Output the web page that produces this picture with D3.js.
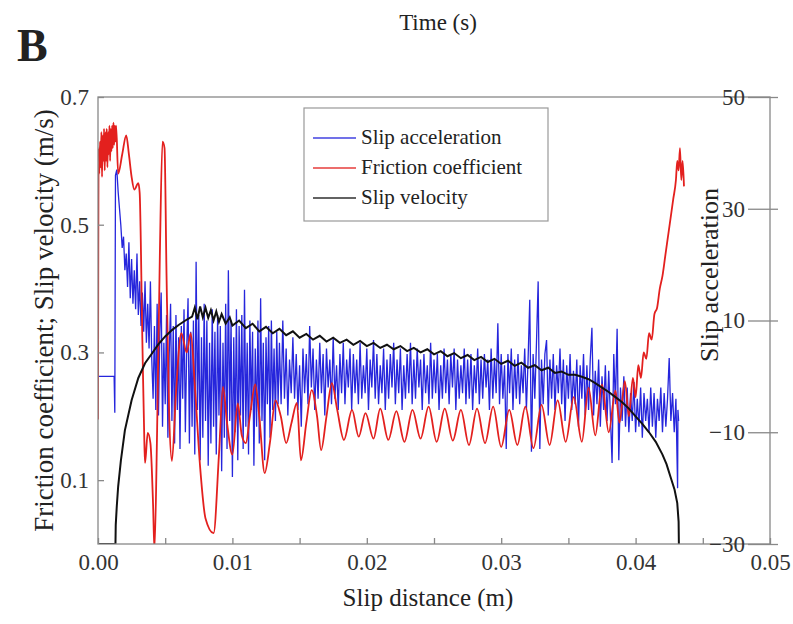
<!DOCTYPE html>
<html>
<head>
<meta charset="utf-8">
<script src="https://cdn.jsdelivr.net/npm/d3@7"></script>
<style>
  body { margin: 0; background: #fff; }
  text { font-family: "Liberation Serif", "Times New Roman", serif; fill: #222; }
  .axis path, .axis line { stroke: #888; stroke-width: 1.3; }
  .axis text { font-size: 23px; font-family: "Liberation Serif", serif; fill: #333; }
</style>
</head>
<body>
<div id="chart"></div>
<script>
// tick values of the three axes
var xTicks = [0, 0.01, 0.02, 0.03, 0.04, 0.05];
var xMinorTicks = [0.005, 0.015, 0.025, 0.035, 0.045];
var leftTicks = [0.1, 0.3, 0.5, 0.7];
var rightTicks = [-30, -10, 10, 30, 50];

var seriesNames = ["Slip acceleration", "Friction coefficient", "Slip velocity"];
var seriesColors = ["#2626dc", "#e3201e", "#111111"];

// slip acceleration (right axis): [slip distance m, acceleration]
var accelData = [
  [0, 0], [0.0012, 0], [0.00125, -6.5], [0.0013, 36], [0.0014, 37], [0.0015, 33], [0.0016, 30],
  [0.0017, 27], [0.0018, 23], [0.0019, 25], [0.002, 19], [0.0021, 22], [0.0022, 16], [0.0023, 24],
  [0.0024, 14], [0.0025, 21], [0.0026, 13], [0.0027, 19], [0.0028, 12], [0.0029, 22], [0.003, 11],
  [0.0031, 17], [0.0032, 9], [0.0033, 15], [0.0034, 8], [0.0035, 17], [0.0036, 6], [0.0037, 13],
  [0.0038, 5], [0.0039, 17], [0.004, 3], [0.0041, -4], [0.0042, 9], [0.0043, -6], [0.0044, 13],
  [0.0045, -7], [0.0046, 8], [0.0047, 15], [0.0048, -9], [0.0049, 6], [0.005, -5], [0.0051, 11],
  [0.0052, -11], [0.0053, 4], [0.0054, 13], [0.0055, -8], [0.0056, 9], [0.0057, -12], [0.0058, 11],
  [0.0059, -6], [0.006, 7], [0.0061, -13], [0.0062, 9], [0.0063, -4], [0.0064, 12], [0.0065, -10],
  [0.0066, 5], [0.0067, 14], [0.0068, -12], [0.0069, 8], [0.007, -9], [0.0071, 10], [0.0072, -14],
  [0.0073, 20.5], [0.0074, -6], [0.0075, 11], [0.0076, -15], [0.0077, 7], [0.0078, -11], [0.0079, 13],
  [0.008, -8], [0.0081, 10], [0.0082, -16], [0.0083, 6], [0.0084, -12], [0.0085, 12], [0.0086, -9],
  [0.0087, 8], [0.0088, -14], [0.0089, 11], [0.009, -7], [0.0091, 9], [0.0092, -17], [0.0093, 6],
  [0.0094, -11], [0.0095, 13], [0.0096, -13], [0.0097, 19], [0.0098, -8], [0.0099, 10], [0.01, -18],
  [0.0101, 7], [0.0102, -10], [0.0103, 12], [0.0104, -15], [0.0105, 9], [0.0106, -7], [0.0107, 11],
  [0.0108, -13], [0.0109, 15.5], [0.011, -9], [0.0111, 6], [0.0112, -14], [0.0113, 10], [0.0114, -6],
  [0.0115, 8], [0.0116, -16], [0.0117, 5], [0.0118, -9], [0.0119, 10], [0.012, -12], [0.0121, 14],
  [0.0122, -8], [0.0123, 6], [0.0124, -15], [0.0125, 7], [0.0126, -5], [0.0127, 9], [0.0128, -11],
  [0.0129, 10], [0.013, -6], [0.0131, 5], [0.0132, -8], [0.0133, 8], [0.0134, -5],
  [0.0135, 6], [0.013625, -5], [0.01375, 10], [0.013875, -4], [0.014, 5], [0.014125, -7], [0.01425, 3],
  [0.014375, -3], [0.0145, 7], [0.014625, -4], [0.01475, 4], [0.014875, -6], [0.015, 2], [0.015125, -9],
  [0.01525, 5], [0.015375, -3], [0.0155, 4], [0.015625, -5], [0.01575, 9], [0.015875, -2], [0.016, 5],
  [0.016125, -6], [0.01625, 3], [0.016375, -4], [0.0165, 6], [0.016625, -3], [0.01675, 4], [0.016875, -7],
  [0.017, 5], [0.017125, -2], [0.01725, 3], [0.017375, -5], [0.0175, 7], [0.017625, -4], [0.01775, 2],
  [0.017875, -6], [0.018, 4], [0.018125, -3], [0.01825, 6], [0.018375, -5], [0.0185, 3], [0.018625, -2],
  [0.01875, 5], [0.018875, -6], [0.019, 4], [0.019125, -3], [0.01925, 3], [0.019375, -5], [0.0195, 6],
  [0.019625, -4], [0.01975, 2], [0.019875, -3], [0.02, 5], [0.020125, -6], [0.02025, 3], [0.020375, -2],
  [0.0205, 6.5], [0.020625, -4], [0.02075, 4], [0.020875, -5], [0.021, 2], [0.021125, -3], [0.02125, 5],
  [0.021375, -6], [0.0215, 3], [0.021625, -4], [0.02175, 4], [0.021875, -2], [0.022, 6], [0.022125, -5],
  [0.02225, 3], [0.022375, -3], [0.0225, 5], [0.022625, -6], [0.02275, 2], [0.022875, -4], [0.023, 4],
  [0.023125, -3], [0.02325, 6], [0.023375, -5], [0.0235, 3], [0.023625, -4], [0.02375, 5], [0.023875, -2],
  [0.024, 3], [0.024125, -6], [0.02425, 4], [0.024375, -3], [0.0245, 2], [0.024625, -5], [0.02475, 6],
  [0.024875, -4], [0.025, 3], [0.025125, -3], [0.02525, 4], [0.025375, -6], [0.0255, 2], [0.025625, -4],
  [0.02575, 5], [0.025875, -3], [0.026, 3], [0.026125, -5], [0.02625, 4], [0.026375, -2], [0.0265, 5],
  [0.026625, -6], [0.02675, 3], [0.026875, -4], [0.027, 2], [0.027125, -3], [0.02725, 5], [0.027375, -5],
  [0.0275, 3], [0.027625, -4], [0.02775, 4], [0.027875, -6], [0.028, 2], [0.028125, -3], [0.02825, 5],
  [0.028375, -5], [0.0285, 3], [0.028625, -4], [0.02875, 4], [0.028875, -2], [0.029, 3], [0.029125, -6],
  [0.02925, 5], [0.029375, -4], [0.0295, 3], [0.029625, -3], [0.02975, 9.5], [0.029875, -5], [0.03, 4],
  [0.030125, -4], [0.03025, 2], [0.030375, -13], [0.0305, 4], [0.030625, -3], [0.03075, 5], [0.030875, -6],
  [0.031, 3], [0.031125, -4], [0.03125, 4], [0.031375, -5], [0.0315, 2], [0.031625, -3], [0.03175, 5],
  [0.031875, -6], [0.032, 3], [0.032125, 13.7], [0.03225, -13.5], [0.032375, 4], [0.0325, -4], [0.032625, 6],
  [0.03275, 17], [0.032875, -13], [0.033, 3], [0.033125, -5], [0.03325, 4], [0.033375, 6.5], [0.0335, -7],
  [0.033625, 3], [0.03375, -4], [0.033875, 4], [0.034, -6], [0.034125, 2], [0.03425, -3], [0.034375, 5],
  [0.0345, -5], [0.034625, 3], [0.03475, -8], [0.034875, 2], [0.035, -4], [0.035125, 4], [0.03525, -6],
  [0.035375, 1], [0.0355, -5], [0.035625, 3], [0.03575, -9], [0.035875, 2], [0.036, -4], [0.036125, 4],
  [0.03625, -7], [0.036375, 2], [0.0365, -6], [0.036625, 3], [0.03675, 8.7], [0.036875, -7], [0.037, 1],
  [0.037125, -5], [0.03725, 3], [0.037375, -9], [0.0375, 0], [0.037625, -6], [0.03775, 2], [0.037875, -8],
  [0.038, 1], [0.038125, -7], [0.03825, -15.5], [0.038375, 4], [0.0385, -5], [0.038625, 8.5], [0.03875, -15],
  [0.038875, -2], [0.039, -8], [0.039125, 0], [0.03925, -9], [0.039375, -2], [0.0395, -10], [0.039625, -3],
  [0.03975, -8], [0.039875, -1], [0.04, -10], [0.040125, -4], [0.04025, -9], [0.040375, -2], [0.0405, -11],
  [0.040625, -3], [0.04075, -8], [0.040875, -4], [0.041, -10], [0.041125, -2], [0.04125, -9], [0.041375, -3],
  [0.0415, -11], [0.041625, -4], [0.04175, -8], [0.041875, -2], [0.042, -10], [0.042125, -3], [0.04225, -9],
  [0.042375, -4], [0.0425, 3.3], [0.042625, -8], [0.04275, -3], [0.042875, -10], [0.043, -4], [0.043125, -20],
  [0.04315, -6], [0.0432, -8]
];

// friction coefficient (left axis): [slip distance m, coefficient]
var frictionData = [
  [0, 0.195], [0.00005, 0.62], [0.0001, 0.58], [0.00015, 0.63], [0.0002, 0.59], [0.00025, 0.645],
  [0.0003, 0.575], [0.00035, 0.64], [0.0004, 0.6], [0.00045, 0.65], [0.0005, 0.585], [0.00055, 0.645],
  [0.0006, 0.6], [0.00065, 0.65], [0.0007, 0.59], [0.00075, 0.645], [0.0008, 0.61], [0.00085, 0.655],
  [0.0009, 0.6], [0.00095, 0.65], [0.001, 0.615], [0.00105, 0.655], [0.0011, 0.62], [0.00115, 0.66],
  [0.0012, 0.625], [0.00125, 0.655], [0.0013, 0.63], [0.00135, 0.655], [0.0015, 0.58], [0.0018, 0.61],
  [0.0021, 0.64], [0.0023, 0.61], [0.0025, 0.575], [0.0027, 0.555], [0.003, 0.565], [0.0031, 0.55],
  [0.0033, 0.32], [0.00345, 0.158], [0.0035, 0.127], [0.0037, 0.174], [0.0039, 0.158], [0.0041, 0.06],
  [0.0042, -0.01], [0.0044, 0.18], [0.0046, 0.45], [0.0048, 0.63], [0.00495, 0.62], [0.0051, 0.42],
  [0.0053, 0.2], [0.0055, 0.13], [0.0058, 0.236], [0.0062, 0.33], [0.0066, 0.3], [0.0069, 0.33],
  [0.0072, 0.25], [0.0076, 0.12], [0.008, 0.04], [0.0086, 0.017], [0.009, 0.14], [0.0093, 0.246],
  [0.0096, 0.19], [0.01, 0.14], [0.0104, 0.22], [0.0107, 0.17], [0.011, 0.158], [0.0113, 0.2],
  [0.0117, 0.25], [0.012, 0.2], [0.0124, 0.111], [0.0128, 0.16], [0.0132, 0.225], [0.0136, 0.2],
  [0.014, 0.158], [0.0144, 0.19], [0.0148, 0.221], [0.0151, 0.131], [0.0155, 0.19], [0.0159, 0.241],
  [0.0163, 0.2], [0.0166, 0.147], [0.017, 0.2], [0.0174, 0.252], [0.0178, 0.21], [0.0183, 0.163],
  [0.0189, 0.21], [0.0194, 0.168], [0.0199, 0.205], [0.0205, 0.165], [0.021, 0.212], [0.0216, 0.163],
  [0.0222, 0.208], [0.0228, 0.16], [0.0234, 0.21], [0.024, 0.165], [0.0246, 0.215], [0.0252, 0.16],
  [0.0258, 0.212], [0.0264, 0.162], [0.027, 0.21], [0.0276, 0.155], [0.0282, 0.212], [0.0288, 0.158],
  [0.0294, 0.215], [0.03, 0.152], [0.0306, 0.21], [0.0312, 0.155], [0.0318, 0.215], [0.0324, 0.15],
  [0.033, 0.218], [0.0336, 0.155], [0.0342, 0.225], [0.0348, 0.16], [0.0354, 0.23], [0.036, 0.16],
  [0.0365, 0.245], [0.037, 0.17], [0.0375, 0.25], [0.038, 0.175], [0.0385, 0.24], [0.0388, 0.19],
  [0.0392, 0.255], [0.0395, 0.2], [0.0398, 0.26], [0.04, 0.23], [0.0402, 0.28], [0.0404, 0.26],
  [0.0406, 0.3], [0.0408, 0.29], [0.041, 0.33], [0.0412, 0.32], [0.0414, 0.36], [0.0416, 0.37],
  [0.0418, 0.4], [0.042, 0.42], [0.0422, 0.45], [0.0424, 0.48], [0.0426, 0.51], [0.0428, 0.54],
  [0.043, 0.57], [0.0431, 0.6], [0.0432, 0.585], [0.0433, 0.62], [0.0434, 0.57], [0.0435, 0.6],
  [0.0436, 0.56]
];

// slip velocity (left axis): [slip distance m, velocity m/s]
var velocityData = [
  [0, 0], [0.0013, 0], [0.00132, 0.03], [0.0014, 0.06], [0.0015, 0.09], [0.0017, 0.13], [0.002, 0.178],
  [0.0025, 0.225], [0.003, 0.26], [0.0035, 0.283], [0.004, 0.298], [0.0045, 0.313], [0.005, 0.325],
  [0.0055, 0.335], [0.006, 0.343], [0.0065, 0.35], [0.007, 0.356], [0.0072, 0.37], [0.0074, 0.352],
  [0.0076, 0.372], [0.0078, 0.355], [0.008, 0.37], [0.0082, 0.354], [0.0084, 0.366], [0.0086, 0.35],
  [0.0088, 0.364], [0.009, 0.348], [0.0092, 0.36], [0.0095, 0.345], [0.0098, 0.355], [0.01, 0.342],
  [0.0105, 0.35], [0.011, 0.338], [0.0115, 0.345], [0.012, 0.333], [0.0125, 0.34], [0.013, 0.33],
  [0.0135, 0.337], [0.014, 0.327], [0.0145, 0.333], [0.015, 0.323], [0.0155, 0.329], [0.016, 0.32],
  [0.0165, 0.326], [0.017, 0.317], [0.0175, 0.323], [0.018, 0.315], [0.0185, 0.32], [0.019, 0.312],
  [0.0195, 0.318], [0.02, 0.31], [0.0205, 0.315], [0.021, 0.307], [0.0215, 0.312], [0.022, 0.305],
  [0.0225, 0.31], [0.023, 0.302], [0.0235, 0.307], [0.024, 0.3], [0.0245, 0.305], [0.025, 0.297],
  [0.0255, 0.302], [0.026, 0.294], [0.0265, 0.299], [0.027, 0.291], [0.0275, 0.296], [0.028, 0.288],
  [0.0285, 0.293], [0.029, 0.285], [0.0295, 0.29], [0.03, 0.282], [0.0305, 0.287], [0.031, 0.279],
  [0.0315, 0.284], [0.032, 0.276], [0.0325, 0.28], [0.033, 0.272], [0.0335, 0.276], [0.034, 0.268],
  [0.0345, 0.27], [0.035, 0.265], [0.0355, 0.265], [0.036, 0.262], [0.0365, 0.258], [0.037, 0.252],
  [0.0375, 0.245], [0.038, 0.238], [0.0385, 0.23], [0.039, 0.222], [0.0395, 0.212], [0.04, 0.2],
  [0.0405, 0.188], [0.041, 0.175], [0.0415, 0.16], [0.042, 0.14], [0.0423, 0.125], [0.0426, 0.105],
  [0.0429, 0.085], [0.0431, 0.064], [0.0432, 0.035], [0.04322, 0]
];

var margin = {top: 97, right: 23, bottom: 80, left: 98},
    width = 793 - margin.left - margin.right,
    height = 624 - margin.top - margin.bottom;

var x = d3.scaleLinear().domain([0, 0.05]).range([0, width]);
var yL = d3.scaleLinear().domain([0, 0.7]).range([height, 0]);
var yR = d3.scaleLinear().domain([-30, 50]).range([height, 0]);

var root = d3.select("#chart").append("svg")
    .attr("width", 793)
    .attr("height", 624);

// panel letter and the leftover title of the panel above
root.append("text")
    .attr("x", 17).attr("y", 61)
    .style("font-size", "46px").style("font-weight", "bold")
    .text("B");
root.append("text")
    .attr("x", 438).attr("y", 30)
    .attr("text-anchor", "middle")
    .style("font-size", "23px")
    .text("Time (s)");

var svg = root.append("g")
    .attr("transform", "translate(" + margin.left + "," + margin.top + ")");

svg.append("clipPath").attr("id", "plotclip")
  .append("rect").attr("width", width).attr("height", height);

// series lines
var lineR = d3.line().x(function(d) { return x(d[0]); }).y(function(d) { return yR(d[1]); });
var lineL = d3.line().x(function(d) { return x(d[0]); }).y(function(d) { return yL(d[1]); });
var smoothL = d3.line().curve(d3.curveMonotoneX)
    .x(function(d) { return x(d[0]); }).y(function(d) { return yL(d[1]); });

var plot = svg.append("g").attr("clip-path", "url(#plotclip)");
plot.append("path").datum(accelData)
    .attr("d", lineR).attr("fill", "none")
    .attr("stroke", seriesColors[0]).attr("stroke-width", 1.3);
plot.append("path").datum(frictionData)
    .attr("d", smoothL).attr("fill", "none")
    .attr("stroke", seriesColors[1]).attr("stroke-width", 1.8);
plot.append("path").datum(velocityData)
    .attr("d", lineL).attr("fill", "none")
    .attr("stroke", seriesColors[2]).attr("stroke-width", 2);

// frame
svg.append("rect")
    .attr("width", width).attr("height", height)
    .attr("fill", "none").attr("stroke", "#888").attr("stroke-width", 1.3);

// x axis with ticks pointing inward
svg.append("g")
    .attr("class", "axis")
    .attr("transform", "translate(0," + height + ")")
    .call(d3.axisBottom(x).tickValues(xTicks.concat(xMinorTicks))
      .tickSize(-6).tickPadding(10)
      .tickFormat(function(d) { return xTicks.indexOf(d) >= 0 ? d3.format(".2f")(d) : ""; }))
    .call(function(g) { g.select(".domain").remove(); });

// left axis
svg.append("g")
    .attr("class", "axis")
    .call(d3.axisLeft(yL).tickValues(leftTicks).tickSize(-6).tickPadding(9)
      .tickFormat(d3.format(".1f")))
    .call(function(g) { g.select(".domain").remove(); });

// right axis: labels sit inside, ticks cross the line
svg.append("g")
    .attr("class", "axis")
    .attr("transform", "translate(" + width + ",0)")
    .call(d3.axisLeft(yR).tickValues(rightTicks).tickSize(22).tickPadding(3)
      .tickFormat(d3.format("d")))
    .call(function(g) { g.select(".domain").remove(); });
svg.append("g")
    .attr("class", "axis")
    .attr("transform", "translate(" + width + ",0)")
    .call(d3.axisRight(yR).tickValues(rightTicks).tickSize(8).tickFormat(""))
    .call(function(g) { g.select(".domain").remove(); });

// axis titles
svg.append("text")
    .attr("x", width / 2 - 6).attr("y", height + 62)
    .attr("text-anchor", "middle")
    .style("font-size", "25px")
    .text("Slip distance (m)");
svg.append("text")
    .attr("transform", "translate(" + (-45) + "," + (height / 2) + ") rotate(-90)")
    .attr("text-anchor", "middle")
    .style("font-size", "27px")
    .text("Friction coefficient; Slip velocity (m/s)");
svg.append("text")
    .attr("transform", "translate(" + (width - 52) + "," + 178 + ") rotate(-90)")
    .attr("text-anchor", "middle")
    .style("font-size", "26px")
    .text("Slip acceleration");

// legend
var legend = svg.append("g").attr("transform", "translate(206,11)");
legend.append("rect")
    .attr("width", 244).attr("height", 113)
    .attr("fill", "#fff").attr("stroke", "#999").attr("stroke-width", 1.2);
seriesNames.forEach(function(name, i) {
  var ly = 30 + i * 30;
  legend.append("line")
      .attr("x1", 9).attr("x2", 52).attr("y1", ly).attr("y2", ly)
      .attr("stroke", seriesColors[i]).attr("stroke-width", 2).attr("opacity", 0.65);
  legend.append("text")
      .attr("x", 57).attr("y", ly + 6)
      .style("font-size", "21px")
      .text(name);
});
</script>
</body>
</html>
